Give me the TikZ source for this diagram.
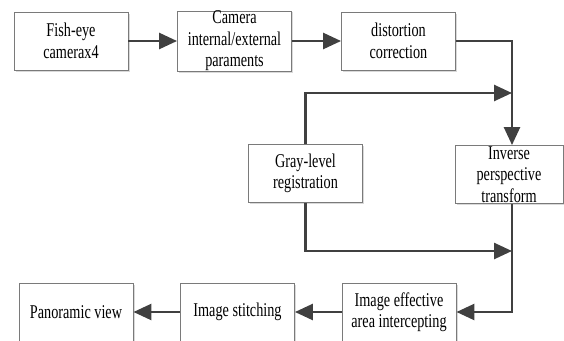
\documentclass[tikz,border=0pt]{standalone}
\usepackage{fontspec}
\newfontfamily\tfont[FakeStretch=0.73]{Liberation Serif}
\usetikzlibrary{arrows.meta,shadows}
\definecolor{conn}{HTML}{404040}
\definecolor{boxline}{HTML}{7A7A7A}
\tikzset{
  blk/.style={draw=boxline, line width=0.9pt, fill=white, minimum width=114pt, minimum height=58pt,
    inner sep=0pt, align=center, font=\tfont\fontsize{19.5}{21.5}\selectfont,
    drop shadow={shadow xshift=1.5pt, shadow yshift=-1.5pt, fill=black!25, opacity=0.6}},
  conline/.style={draw=conn, line width=2.6pt},
  arr/.style={conline, -{Triangle[length=18pt,width=16pt]}}
}
\begin{document}
\begin{tikzpicture}[x=1pt,y=-1pt]
\useasboundingbox (0,0) rectangle (564,340);
\node[blk] (fish) at (71,41) {Fish-eye\\camerax4};
\node[blk] (cam) at (234.5,41) {Camera\\internal/external\\paraments};
\node[blk] (dist) at (398.5,41) {distortion\\correction};
\node[blk] (gray) at (305.5,173.5) {Gray-level\\registration};
\node[blk, minimum width=108pt] (inv) at (509,174.5) {Inverse\\perspective\\transform};
\node[blk] (pan) at (76,312) {Panoramic view};
\node[blk] (stitch) at (237.5,312) {Image stitching};
\node[blk] (eff) at (399,312) {Image effective\\area intercepting};
\coordinate (c1) at (512,41);
\coordinate (c2) at (512,93);
\coordinate (c3) at (512,251);
\coordinate (c4) at (512,312);
\draw[arr] (fish) -- (cam);
\draw[arr] (cam) -- (dist);
\draw[arr] (dist.east) -- (c1) -- (c1 |- inv.north);
\draw[arr] (gray.north) |- (c2);
\draw[arr] (gray.south) |- (c3);
\draw[arr] (c1 |- inv.south) -- (c4) -- (eff.east);
\draw[arr] (eff) -- (stitch);
\draw[arr] (stitch) -- (pan);
\end{tikzpicture}
\end{document}
